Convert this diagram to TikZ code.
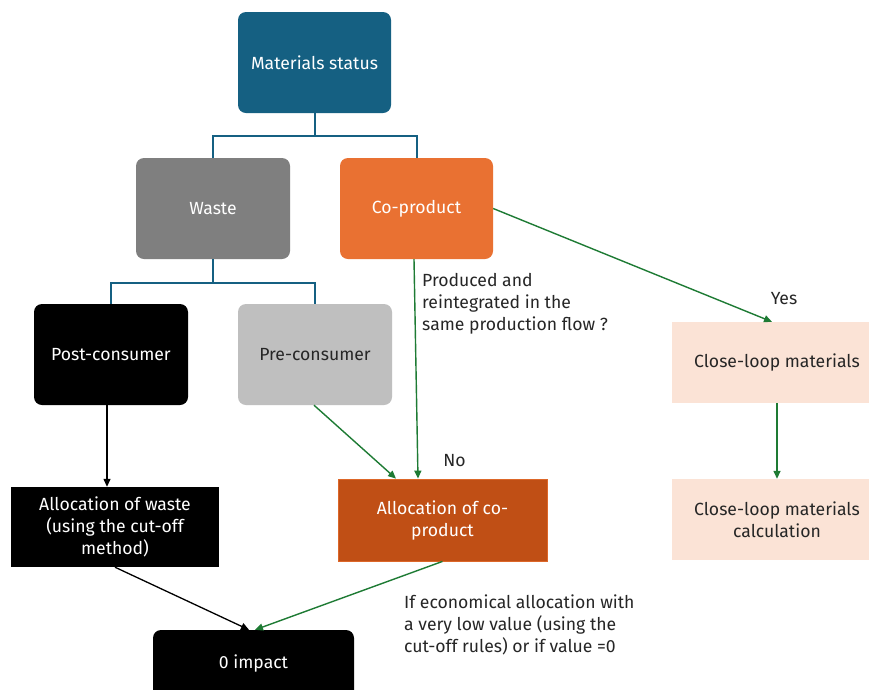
\documentclass[tikz,border=0pt]{standalone}
\usepackage{fontspec}
\setmainfont{Fira Sans}
\usetikzlibrary{arrows.meta,calc}

\definecolor{statusblue}{HTML}{156082}
\definecolor{wastegray}{HTML}{7F7F7F}
\definecolor{preconsgray}{HTML}{BFBFBF}
\definecolor{coprodorange}{HTML}{E97132}
\definecolor{allocorange}{HTML}{C04F15}
\definecolor{loopcream}{HTML}{FBE3D6}
\definecolor{flowgreen}{HTML}{1E7B34}
\definecolor{inktext}{HTML}{262626}

\tikzset{
  txt/.style={font=\fontsize{17.6}{22}\selectfont},
  box/.style={txt, inner sep=0pt, align=center, draw=none},
  roundbox/.style={box, rounded corners=8pt},
  darkbox/.style={fill=black, text=white},
  treeline/.style={draw=statusblue, line width=2pt},
  greenarrow/.style={draw=flowgreen, line width=1.4pt,
    -{Triangle[length=8pt,width=7pt]}},
  blackarrow/.style={draw=black, line width=1.3pt,
    -{Triangle[length=8pt,width=7pt]}},
  note/.style={txt, text=inktext, inner sep=0pt},
}

\begin{document}
\begin{tikzpicture}[x=1pt,y=-1pt]
\useasboundingbox (0,0) rectangle (869,689);
\clip (0,0) rectangle (869,689);
\fill[white] (0,0) rectangle (869,689);

% top level
\node[roundbox, fill=statusblue, text=white, minimum width=153pt, minimum height=101pt]
  (status) at (314.5,62.5) {Materials status};

% second level
\node[roundbox, fill=wastegray, text=white, minimum width=154pt, minimum height=101pt]
  (waste) at (213,208.5) {Waste};
\node[roundbox, fill=coprodorange, text=white, minimum width=153pt, minimum height=101pt]
  (copro) at (416.5,208.5) {Co-product};

% waste origins
\node[roundbox, darkbox, minimum width=154pt, minimum height=101pt]
  (post) at (111,354.5) {Post-consumer};
\node[roundbox, fill=preconsgray, text=inktext, minimum width=154pt, minimum height=101pt]
  (pre) at (315,354.5) {Pre-consumer};

% allocation boxes
\node[box, darkbox, minimum width=208pt, minimum height=80pt]
  (allocw) at (115,527) {Allocation of waste\\(using the cut-off\\method)};
\node[box, fill=allocorange, draw=coprodorange!70!allocorange, line width=0.8pt,
  text=white, minimum width=209pt, minimum height=82pt]
  (allocc) at (442.5,520) {Allocation of co-\\product};

% closed loop branch
\node[box, fill=loopcream, text=inktext, minimum width=210pt, minimum height=81pt]
  (loop) at (777,362.5) {Close-loop materials};
\node[box, fill=loopcream, text=inktext, minimum width=210pt, minimum height=81pt]
  (loopcalc) at (777,519.5) {Close-loop materials\\calculation};

% result
\node[txt, rounded corners=8pt, darkbox, inner xsep=0pt, inner ysep=0pt,
  minimum width=201pt, text height=38pt, text depth=50pt]
  (zero) at (253.5,674) {0 impact};

% blue hierarchy
\draw[treeline] (status.south) -- ++(0,22.5) -| (waste.north);
\draw[treeline] (status.south) -- ++(0,22.5) -| (copro.north);
\draw[treeline] (waste.south) -- ++(0,24) -| (post.north);
\draw[treeline] (waste.south) -- ++(0,24) -| (pre.north);

% flows
\draw[blackarrow] ([xshift=-4pt]post.south) -- ([xshift=-8pt]allocw.north);
\draw[greenarrow] ([xshift=-1pt]pre.south) -- ([xshift=-46.5pt]allocc.north);
\draw[greenarrow] ([xshift=-2.5pt]copro.south) -- ([xshift=-24.5pt]allocc.north);
\draw[greenarrow] (copro.east) -- ([xshift=-5pt]loop.north);
\draw[greenarrow] (loop.south) -- (loopcalc.north);
\draw[blackarrow] (allocw.south) -- ([xshift=-4.5pt]zero.north);
\draw[greenarrow] (allocc.south) -- ([xshift=1.5pt]zero.north);

% flow labels
\node[note, anchor=west, align=left] (question) at (422,304)
  {Produced and\\reintegrated in the\\same production flow ?};
\node[note] (yes) at (784,299) {Yes};
\node[note] (no) at (454.5,461) {No};
\node[note, anchor=west, align=left] (cutoff) at (404,625)
  {If economical allocation with\\a very low value (using the\\cut-off rules) or if value =0};
\end{tikzpicture}
\end{document}
